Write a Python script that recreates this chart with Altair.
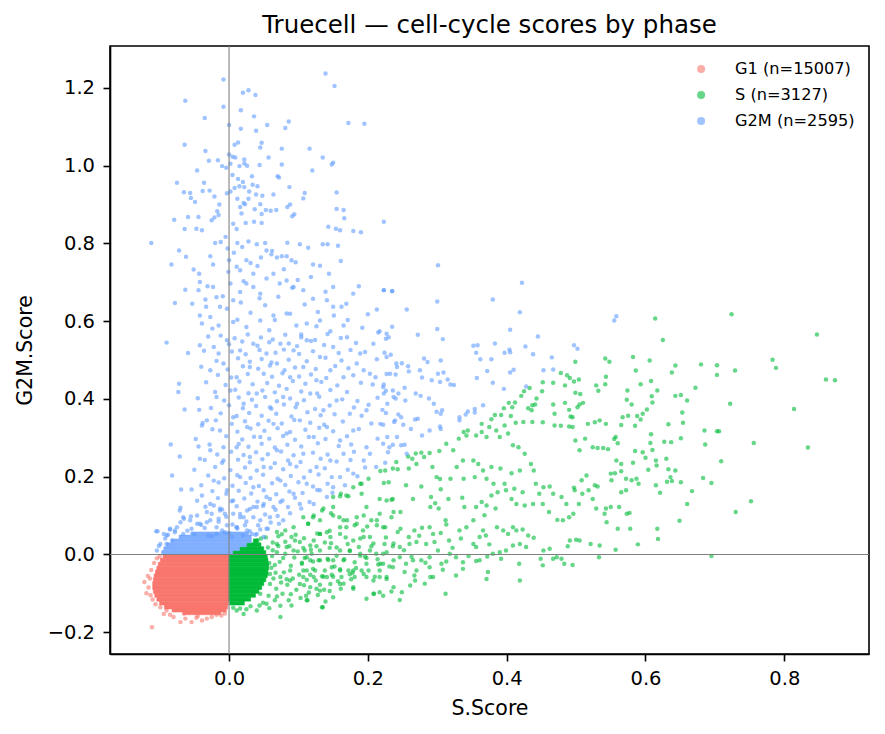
import altair as alt
import pandas as pd

# ---------------- data ----------------
phase_labels = ["G1 (n=15007)", "S (n=3127)", "G2M (n=2595)"]
phase_colors = ["#F8766D", "#00BA38", "#619CFF"]
x_ticks = [0.0, 0.2, 0.4, 0.6, 0.8]
y_ticks = [-0.2, 0.0, 0.2, 0.4, 0.6, 0.8, 1.0, 1.2]
x_domain = [-0.1715, 0.922]
y_domain = [-0.256, 1.308]
ref_zero = [0.0]

# dense cores, one row per band: (y_low, y_high, x_left, x_right)
g1_core = [
    (-0.010, 0.000, -0.095, 0.0), (-0.020, -0.010, -0.099, 0.0),
    (-0.030, -0.020, -0.102, 0.0), (-0.040, -0.030, -0.104, 0.0),
    (-0.050, -0.040, -0.106, 0.0), (-0.060, -0.050, -0.108, 0.0),
    (-0.070, -0.060, -0.109, 0.0), (-0.080, -0.070, -0.110, 0.0),
    (-0.090, -0.080, -0.110, 0.0), (-0.100, -0.090, -0.109, 0.0),
    (-0.110, -0.100, -0.107, 0.0), (-0.120, -0.110, -0.104, 0.0),
    (-0.130, -0.120, -0.100, -0.001), (-0.140, -0.130, -0.093, -0.002),
    (-0.148, -0.140, -0.082, -0.004), (-0.155, -0.148, -0.066, -0.012),
]
s_core = [
    (0.030, 0.040, 0.035, 0.042), (0.020, 0.030, 0.025, 0.046),
    (0.010, 0.020, 0.015, 0.050), (0.000, 0.010, 0.005, 0.053),
    (-0.010, 0.000, 0.0, 0.055), (-0.020, -0.010, 0.0, 0.056),
    (-0.030, -0.020, 0.0, 0.057), (-0.040, -0.030, 0.0, 0.057),
    (-0.050, -0.040, 0.0, 0.056), (-0.060, -0.050, 0.0, 0.055),
    (-0.070, -0.060, 0.0, 0.053), (-0.080, -0.070, 0.0, 0.050),
    (-0.090, -0.080, 0.0, 0.047), (-0.100, -0.090, 0.0, 0.043),
    (-0.110, -0.100, 0.0, 0.038), (-0.120, -0.110, 0.0, 0.031),
    (-0.130, -0.120, 0.001, 0.022),
]
g2m_core = [
    (0.000, 0.010, -0.097, 0.005), (0.010, 0.020, -0.094, 0.015),
    (0.020, 0.030, -0.090, 0.025), (0.030, 0.040, -0.083, 0.032),
    (0.040, 0.050, -0.072, 0.032), (0.050, 0.058, -0.055, 0.028),
]

g1_pts = [
    (-0.122, -0.071), (-0.119, -0.100), (-0.114, -0.062), (-0.110, -0.116), (-0.099, -0.136),
    (-0.094, -0.153), (-0.070, -0.174), (-0.054, -0.174), (-0.039, -0.170), (-0.025, -0.161),
    (-0.011, -0.157), (-0.080, -0.161), (-0.090, -0.144), (-0.111, -0.187), (-0.116, -0.085),
    (-0.112, -0.040), (-0.108, -0.022), (-0.104, -0.010), (-0.117, -0.055), (-0.113, -0.105),
    (-0.106, -0.128), (-0.085, -0.155), (-0.063, -0.165), (-0.047, -0.163), (-0.032, -0.165),
    (-0.018, -0.155), (-0.006, -0.152), (-0.100, -0.005), (-0.065, -0.152), (-0.045, -0.158),
]

s_pts = [
    # far spread of the S cloud
    (0.614, 0.607), (0.724, 0.618), (0.847, 0.566), (0.625, 0.552), (0.783, 0.501), (0.788, 0.480),
    (0.680, 0.489), (0.703, 0.487), (0.703, 0.462), (0.729, 0.473), (0.860, 0.450), (0.873, 0.448),
    (0.814, 0.374), (0.834, 0.275), (0.756, 0.287), (0.722, 0.388), (0.672, 0.429), (0.660, 0.396),
    (0.651, 0.410), (0.643, 0.408), (0.638, 0.468), (0.643, 0.486), (0.606, 0.499), (0.582, 0.508),
    (0.586, 0.473), (0.542, 0.504), (0.548, 0.496), (0.543, 0.457), (0.542, 0.438), (0.529, 0.435),
    (0.532, 0.421), (0.499, 0.496), (0.504, 0.450), (0.497, 0.445), (0.491, 0.454), (0.487, 0.461),
    (0.478, 0.467), (0.467, 0.442), (0.452, 0.443), (0.451, 0.420), (0.484, 0.435), (0.499, 0.416),
    (0.506, 0.413), (0.433, 0.428), (0.425, 0.420), (0.421, 0.408), (0.443, 0.401), (0.441, 0.386),
    (0.437, 0.384), (0.436, 0.371), (0.431, 0.376), (0.412, 0.391), (0.408, 0.379), (0.403, 0.390),
    (0.396, 0.376), (0.406, 0.356), (0.392, 0.359), (0.383, 0.359), (0.378, 0.348), (0.413, 0.339),
    (0.424, 0.341), (0.437, 0.341), (0.452, 0.340), (0.467, 0.386), (0.469, 0.362), (0.469, 0.332),
    (0.478, 0.331), (0.490, 0.372), (0.492, 0.355), (0.490, 0.329), (0.502, 0.379), (0.505, 0.386),
    (0.510, 0.390), (0.484, 0.390), (0.495, 0.353), (0.517, 0.336), (0.534, 0.345), (0.543, 0.336),
    (0.527, 0.340), (0.495, 0.328), (0.505, 0.268), (0.499, 0.293), (0.513, 0.298), (0.524, 0.276),
    (0.531, 0.274), (0.539, 0.274), (0.546, 0.271), (0.555, 0.297), (0.560, 0.286), (0.557, 0.302),
    (0.574, 0.422), (0.573, 0.398), (0.580, 0.386), (0.593, 0.438), (0.608, 0.446), (0.617, 0.422),
    (0.609, 0.407), (0.610, 0.391), (0.602, 0.373), (0.596, 0.362), (0.588, 0.356), (0.593, 0.347),
    (0.575, 0.357), (0.567, 0.353), (0.565, 0.333), (0.585, 0.331), (0.633, 0.335), (0.653, 0.365),
    (0.654, 0.339), (0.651, 0.299), (0.627, 0.290), (0.637, 0.289), (0.608, 0.309), (0.607, 0.287),
    (0.610, 0.269), (0.596, 0.263), (0.585, 0.266), (0.600, 0.249), (0.615, 0.242), (0.616, 0.229),
    (0.630, 0.246), (0.633, 0.219), (0.643, 0.216), (0.636, 0.199), (0.638, 0.189), (0.631, 0.187),
    (0.651, 0.186), (0.667, 0.163), (0.683, 0.197), (0.695, 0.184), (0.685, 0.319), (0.686, 0.283),
    (0.703, 0.317), (0.706, 0.317), (0.709, 0.240), (0.752, 0.137), (0.730, 0.109), (0.660, 0.130),
    (0.649, 0.087), (0.621, 0.159), (0.615, 0.178), (0.604, 0.218), (0.587, 0.195), (0.590, 0.182),
    (0.580, 0.191), (0.572, 0.195), (0.565, 0.214), (0.556, 0.209), (0.550, 0.208), (0.551, 0.191),
    (0.558, 0.242), (0.565, 0.233), (0.582, 0.236), (0.572, 0.165), (0.565, 0.160), (0.573, 0.105),
    (0.577, 0.107), (0.562, 0.122), (0.550, 0.122), (0.543, 0.118), (0.541, 0.105), (0.544, 0.083),
    (0.529, 0.118), (0.524, 0.143), (0.518, 0.165), (0.509, 0.156), (0.504, 0.130), (0.496, 0.105),
    (0.490, 0.096), (0.481, 0.088), (0.473, 0.089), (0.461, 0.109), (0.452, 0.130), (0.447, 0.156),
    (0.438, 0.130), (0.426, 0.126), (0.414, 0.130), (0.407, 0.143), (0.399, 0.165), (0.397, 0.182),
    (0.387, 0.160), (0.378, 0.152), (0.371, 0.126), (0.364, 0.135), (0.356, 0.122), (0.339, 0.122),
    (0.336, 0.146), (0.316, 0.143), (0.305, 0.168), (0.304, 0.194), (0.299, 0.199), (0.293, 0.225),
    (0.281, 0.251), (0.269, 0.260), (0.258, 0.252), (0.264, 0.246), (0.277, 0.262), (0.289, 0.261),
    (0.303, 0.266), (0.313, 0.285), (0.323, 0.268), (0.331, 0.298), (0.338, 0.315), (0.344, 0.319),
    (0.342, 0.306), (0.356, 0.306), (0.364, 0.336), (0.364, 0.315), (0.371, 0.302), (0.375, 0.328),
    (0.385, 0.319), (0.390, 0.302), (0.397, 0.332), (0.402, 0.311), (0.409, 0.281), (0.417, 0.276),
    (0.426, 0.259), (0.435, 0.233), (0.439, 0.216), (0.419, 0.216), (0.407, 0.209), (0.391, 0.221),
    (0.378, 0.225), (0.366, 0.216), (0.359, 0.233), (0.352, 0.242), (0.337, 0.242), (0.328, 0.225),
    (0.319, 0.195), (0.338, 0.195), (0.354, 0.199), (0.371, 0.195), (0.381, 0.182), (0.411, 0.169),
    (0.423, 0.160), (0.442, 0.182), (0.453, 0.173), (0.462, 0.175), (0.467, 0.156), (0.479, 0.148),
    (0.486, 0.130), (0.498, 0.165), (0.508, 0.191), (0.515, 0.203), (0.527, 0.178), (0.531, 0.175),
    (0.497, 0.172), (0.223, 0.184), (0.225, 0.216), (0.236, 0.221), (0.243, 0.219), (0.259, 0.221),
    (0.270, 0.233), (0.255, 0.178), (0.277, 0.175), (0.265, 0.143), (0.291, 0.148), (0.297, 0.132),
    (0.290, 0.122), (0.302, 0.118), (0.312, 0.088), (0.313, 0.077), (0.332, 0.062), (0.342, 0.070),
    (0.352, 0.027), (0.356, 0.019), (0.366, 0.062), (0.370, 0.049), (0.386, 0.070), (0.395, 0.062),
    (0.402, 0.053), (0.409, 0.070), (0.414, 0.062), (0.423, 0.064), (0.431, 0.049), (0.439, 0.043),
    (0.428, 0.019), (0.419, 0.027), (0.409, 0.023), (0.399, 0.010), (0.390, 0.006), (0.380, 0.002),
    (0.372, -0.005), (0.392, -0.011), (0.453, 0.010), (0.462, 0.015), (0.449, -0.011), (0.472, -0.007),
    (0.479, -0.011), (0.488, 0.021), (0.491, 0.036), (0.500, 0.038), (0.505, 0.036), (0.521, 0.027),
    (0.534, 0.023), (0.557, 0.012), (0.533, -0.007), (0.560, 0.066), (0.578, 0.066), (0.589, 0.026),
    (0.617, 0.066), (0.618, 0.040), (0.695, -0.004), (0.217, 0.143), (0.234, 0.141), (0.217, 0.105),
    (0.234, 0.096), (0.247, 0.109), (0.222, 0.070), (0.247, 0.066), (0.259, 0.045), (0.267, 0.062),
    (0.278, 0.069), (0.289, 0.070), (0.294, 0.053), (0.284, 0.027), (0.270, 0.032), (0.260, 0.027),
    (0.246, 0.019), (0.236, 0.021), (0.224, 0.027), (0.227, 0.006), (0.246, -0.007), (0.255, -0.024),
    (0.265, -0.015), (0.277, -0.015), (0.289, -0.007), (0.301, 0.010), (0.317, 0.036), (0.327, -0.007),
    (0.337, -0.020), (0.318, 0.002), (0.306, -0.024), (0.289, -0.033), (0.270, -0.041), (0.253, -0.045),
    (0.236, -0.033), (0.222, -0.024), (0.217, -0.041), (0.356, -0.017), (0.361, -0.015), (0.337, -0.037),
    (0.308, -0.039), (0.294, -0.058), (0.267, -0.054), (0.452, -0.028), (0.467, -0.011), (0.483, -0.024),
    (0.495, -0.027), (0.418, -0.024), (0.373, -0.045), (0.327, -0.054), (0.217, -0.058), (0.227, -0.063),
    # lower band and x 0.10-0.22
    (0.113, -0.118), (0.135, -0.136), (0.111, -0.106), (0.126, -0.088), (0.145, -0.094), (0.165, -0.075),
    (0.179, -0.088), (0.198, -0.114), (0.209, -0.101), (0.217, -0.097), (0.234, -0.095), (0.246, -0.117),
    (0.249, -0.097), (0.261, -0.080), (0.268, -0.067), (0.282, -0.075), (0.290, -0.058), (0.312, -0.101),
    (0.371, -0.063), (0.419, -0.067), (0.160, -0.038), (0.148, -0.033), (0.138, -0.041), (0.121, -0.037),
    (0.112, -0.041), (0.107, -0.058), (0.125, -0.067), (0.136, -0.057), (0.150, -0.057), (0.162, -0.058),
    (0.174, -0.051), (0.181, -0.058), (0.198, -0.058), (0.210, -0.057), (0.172, -0.041), (0.191, -0.041),
    (0.201, -0.041), (0.215, -0.026), (0.203, 0.045), (0.193, 0.062), (0.181, 0.075), (0.165, 0.088),
    (0.150, 0.100), (0.141, 0.057), (0.131, 0.053), (0.117, 0.023), (0.109, 0.010), (0.105, -0.024),
    (0.160, 0.070), (0.169, 0.070), (0.184, 0.096), (0.198, 0.122), (0.205, 0.088), (0.213, 0.075),
    (0.191, 0.156), (0.189, 0.182), (0.169, 0.152), (0.160, 0.150), (0.150, 0.122), (0.136, 0.118),
    (0.131, 0.088), (0.121, 0.096), (0.114, 0.079), (0.107, 0.017), (0.119, 0.002), (0.131, 0.010),
    (0.145, 0.017), (0.155, -0.003), (0.174, 0.009), (0.189, -0.003), (0.198, -0.009), (0.212, 0.002),
    (0.129, -0.015), (0.143, -0.014), (0.165, -0.015), (0.181, -0.020), (0.117, -0.015), (0.109, -0.009),
    # x 0.04-0.24 from the left panel
    (0.241, 0.238), (0.230, 0.186), (0.227, 0.139), (0.236, 0.143), (0.218, 0.215), (0.201, 0.195),
    (0.191, 0.182), (0.179, 0.173), (0.172, 0.150), (0.161, 0.156), (0.150, 0.148), (0.134, 0.113),
    (0.147, 0.106), (0.159, 0.096), (0.170, 0.088), (0.184, 0.079), (0.194, 0.100), (0.213, 0.088),
    (0.225, 0.070), (0.237, 0.109), (0.122, 0.100), (0.107, 0.096), (0.114, 0.079), (0.093, 0.070),
    (0.081, 0.062), (0.069, 0.058), (0.090, 0.045), (0.102, 0.032), (0.122, 0.036), (0.131, 0.053),
    (0.146, 0.045), (0.160, 0.053), (0.179, 0.036), (0.194, 0.045), (0.208, 0.028), (0.237, 0.028),
    (0.222, 0.002), (0.203, 0.010), (0.189, 0.002), (0.174, 0.010), (0.160, 0.010), (0.150, -0.015),
    (0.131, -0.015), (0.112, -0.007), (0.093, 0.010), (0.083, 0.019), (0.069, 0.027), (0.107, -0.041),
    (0.122, -0.058), (0.141, -0.058), (0.160, -0.041), (0.179, -0.041), (0.198, -0.024), (0.218, -0.024),
    (0.237, -0.015), (0.227, -0.058), (0.208, -0.067), (0.194, -0.050), (0.179, -0.084), (0.160, -0.076),
    (0.146, -0.076), (0.131, -0.093), (0.117, -0.084), (0.102, -0.076), (0.088, -0.067), (0.074, -0.058),
    (0.059, -0.050), (0.112, -0.118), (0.090, -0.131), (0.074, -0.161), (0.134, -0.136), (0.222, -0.106),
    (0.237, -0.084), (0.208, -0.101), (0.150, -0.110), (0.045, -0.101), (0.054, -0.127), (0.040, -0.144),
    (0.021, -0.153), (0.011, -0.144),
    # fuzzy edge of the S core
    (0.052, -0.012), (0.056, 0.018), (0.061, -0.034), (0.064, -0.062), (0.068, -0.088), (0.057, -0.106),
    (0.063, 0.031), (0.069, 0.006), (0.073, -0.019), (0.079, -0.046), (0.084, -0.078), (0.077, -0.101),
    (0.089, -0.029), (0.094, -0.008), (0.087, 0.021), (0.053, 0.044), (0.046, 0.041), (0.041, 0.036),
    (0.054, -0.051), (0.059, -0.076), (0.049, -0.124), (0.031, -0.133), (0.016, -0.139), (0.066, -0.118),
    (0.101, -0.052), (0.097, -0.091), (0.081, 0.002), (0.071, 0.047), (0.076, 0.052), (0.105, -0.021),
    (0.112, -0.065), (0.118, 0.012), (0.124, -0.041), (0.131, -0.078), (0.138, 0.031), (0.142, -0.011),
    (0.148, -0.052), (0.155, 0.018), (0.161, -0.088), (0.108, 0.042), (0.092, -0.062), (0.086, -0.118),
    (0.074, -0.132), (0.058, -0.138), (0.044, -0.131), (0.025, -0.141), (0.006, -0.137), (0.099, 0.008),
    (0.115, -0.098), (0.127, 0.054), (0.121, -0.018), (0.134, -0.056), (0.145, 0.061), (0.152, -0.031),
    (0.166, -0.012), (0.171, 0.027), (0.176, -0.064), (0.183, -0.035), (0.189, 0.041), (0.196, -0.006),
    (0.062, -0.004), (0.067, -0.047), (0.071, 0.022), (0.083, -0.064), (0.095, 0.036), (0.103, -0.112),
    (0.128, -0.104), (0.139, -0.121),
    (0.205, 0.021), (0.214, -0.012), (0.226, 0.044), (0.231, -0.031), (0.243, 0.058), (0.252, 0.011),
    (0.263, -0.006), (0.274, 0.048), (0.283, -0.021), (0.296, 0.032), (0.305, 0.055), (0.313, -0.018),
    (0.322, 0.017), (0.334, 0.041), (0.345, -0.004), (0.352, 0.088), (0.361, 0.045), (0.368, 0.101),
    (0.375, 0.026), (0.384, 0.118), (0.199, 0.072), (0.187, 0.019), (0.178, -0.047), (0.168, 0.044),
    (0.157, -0.069), (0.147, 0.029), (0.137, -0.091), (0.126, 0.021), (0.117, -0.052), (0.108, -0.079),
    (0.096, 0.051), (0.089, -0.102), (0.081, 0.033), (0.075, -0.072), (0.069, -0.108), (0.063, 0.011),
    (0.058, -0.022), (0.066, -0.027), (0.078, -0.009), (0.088, -0.041),
]

g2m_pts = [
    # upper part of the G2M cloud
    (0.139, 1.237), (0.152, 1.205), (-0.008, 1.222), (0.020, 1.188), (0.028, 1.194), (0.038, 1.182),
    (-0.063, 1.167), (-0.008, 1.152), (0.017, 1.143), (0.036, 1.127), (-0.035, 1.123), (0.172, 1.110),
    (0.195, 1.108), (0.086, 1.114), (0.081, 1.097), (0.055, 1.105), (0.000, 1.105), (0.039, 1.090),
    (0.017, 1.095), (0.047, 1.059), (0.045, 1.047), (0.008, 1.054), (0.013, 1.060), (-0.064, 1.054),
    (-0.034, 1.038), (0.076, 1.044), (0.116, 1.044), (0.000, 1.029), (0.005, 1.023), (0.009, 1.021),
    (-0.016, 1.014), (-0.029, 1.013), (0.022, 1.016), (0.057, 1.021), (0.135, 1.021), (-0.010, 0.999),
    (-0.004, 0.995), (0.002, 1.005), (0.015, 0.999), (0.022, 1.006), (0.026, 1.000), (0.044, 1.002),
    (0.076, 1.003), (0.148, 1.003), (0.150, 1.008), (0.120, 0.988), (-0.046, 0.988), (0.005, 0.976),
    (0.013, 0.966), (0.033, 0.973), (0.020, 0.958), (0.070, 0.973), (0.072, 0.970), (0.087, 0.945),
    (-0.075, 0.956), (-0.036, 0.956), (-0.065, 0.932), (-0.056, 0.930), (-0.055, 0.917), (-0.049, 0.907),
    (-0.038, 0.935), (-0.028, 0.936), (-0.021, 0.921), (-0.003, 0.929), (0.002, 0.934), (0.008, 0.943),
    (0.015, 0.947), (0.022, 0.945), (0.029, 0.934), (0.034, 0.951), (0.041, 0.947), (0.012, 0.915),
    (0.021, 0.904), (0.028, 0.915), (0.039, 0.926), (0.048, 0.923), (0.064, 0.926), (0.107, 0.916),
    (0.109, 0.930), (0.155, 0.931), (0.155, 0.889), (0.165, 0.886), (0.166, 0.865), (0.088, 0.900),
    (0.084, 0.894), (0.094, 0.875), (0.091, 0.870), (-0.014, 0.900), (-0.017, 0.883), (-0.015, 0.873),
    (-0.025, 0.860), (-0.021, 0.867), (-0.079, 0.861), (-0.059, 0.868), (-0.044, 0.868), (-0.064, 0.837),
    (-0.047, 0.838), (-0.039, 0.834), (0.006, 0.851), (0.011, 0.837), (0.018, 0.877), (0.024, 0.853),
    (0.036, 0.856), (0.047, 0.853), (0.053, 0.886), (0.060, 0.884), (0.068, 0.886), (0.016, 0.894),
    (0.023, 0.901), (0.037, 0.888), (0.045, 0.901), (0.047, 0.876), (0.143, 0.843), (0.154, 0.838),
    (0.160, 0.834), (0.179, 0.832), (0.190, 0.829), (0.223, 0.856), (-0.112, 0.801), (-0.072, 0.782),
    (-0.062, 0.766), (-0.083, 0.746),
    (-0.051, 0.733), (-0.043, 0.722), (-0.042, 0.701), (-0.044, 0.680), (-0.031, 0.690), (-0.034, 0.656),
    (-0.033, 0.637), (-0.027, 0.767), (-0.023, 0.746), (-0.020, 0.801), (-0.012, 0.804), (-0.005, 0.817),
    (-0.002, 0.787), (0.000, 0.757), (-0.001, 0.727), (0.007, 0.776), (0.012, 0.801), (0.019, 0.791),
    (0.011, 0.740), (0.016, 0.731), (0.025, 0.757), (0.031, 0.750), (0.035, 0.722), (0.040, 0.798),
    (0.046, 0.764), (0.052, 0.801), (0.054, 0.782), (0.062, 0.781), (0.069, 0.764), (0.076, 0.767),
    (0.083, 0.767), (0.090, 0.757), (0.096, 0.752), (0.102, 0.798), (0.114, 0.789), (0.121, 0.746),
    (0.131, 0.743), (0.135, 0.798), (0.142, 0.798), (0.157, 0.794), (0.161, 0.755), (0.144, 0.722),
    (0.150, 0.688), (0.141, 0.654), (0.121, 0.658), (0.107, 0.680), (0.093, 0.688), (0.083, 0.705),
    (0.073, 0.697), (0.064, 0.722), (0.054, 0.710), (0.045, 0.671), (0.035, 0.688), (0.025, 0.697),
    (0.016, 0.675), (0.006, 0.654), (-0.003, 0.632), (-0.013, 0.637), (-0.018, 0.662), (-0.023, 0.688),
    (-0.027, 0.611), (-0.042, 0.615), (-0.039, 0.594), (-0.015, 0.589), (0.006, 0.598), (0.025, 0.585),
    (0.045, 0.602), (0.064, 0.615), (0.083, 0.620), (0.097, 0.589), (0.112, 0.594), (0.131, 0.602),
    (0.150, 0.637), (0.169, 0.645), (0.187, 0.690), (0.200, 0.618), (0.213, 0.630), (0.223, 0.680),
    (0.235, 0.678), (0.179, 0.671), (0.165, 0.589), (0.162, 0.637), (0.227, 0.568), (0.215, 0.571),
    (-0.053, 0.645), (-0.078, 0.647), (-0.063, 0.681),
    (0.031, 0.622), (0.052, 0.641), (0.071, 0.663), (0.088, 0.619), (0.109, 0.643), (0.128, 0.624),
    (0.021, 0.703), (0.041, 0.742), (0.079, 0.734), (0.099, 0.706), (0.118, 0.714), (0.061, 0.772),
    (0.002, 0.697), (-0.009, 0.664), (0.028, 0.805), (0.084, 0.802), (0.171, 0.603), (0.192, 0.583),
    (0.146, 0.574), (0.058, 0.577), (0.012, 0.604), (-0.024, 0.581), (0.104, 0.566), (0.126, 0.587),
    (0.044, 0.659), (0.017, 0.648), (0.139, 0.676), (0.091, 0.686), (0.066, 0.603), (0.151, 0.615),
    # middle part
    (-0.090, 0.545), (-0.059, 0.518), (-0.042, 0.538), (-0.030, 0.561), (-0.072, 0.439), (-0.073, 0.418),
    (-0.064, 0.373), (-0.043, 0.372), (-0.039, 0.332), (-0.084, 0.283), (-0.071, 0.252), (-0.044, 0.278),
    (-0.042, 0.246), (-0.082, 0.203), (-0.069, 0.167), (-0.054, 0.167), (-0.039, 0.152), (-0.071, 0.113),
    (-0.065, 0.092), (-0.103, 0.060), (-0.090, 0.049), (-0.078, 0.062),
    (-0.022, 0.534), (-0.003, 0.551), (0.016, 0.525), (0.035, 0.542), (0.054, 0.517), (0.074, 0.542),
    (0.093, 0.525), (0.112, 0.551), (0.131, 0.508), (0.150, 0.534), (0.170, 0.559), (0.189, 0.517),
    (0.208, 0.542), (0.227, 0.508), (0.242, 0.482),
    (-0.027, 0.474), (-0.008, 0.491), (0.011, 0.456), (0.030, 0.482), (0.050, 0.465), (0.069, 0.491),
    (0.088, 0.456), (0.107, 0.482), (0.126, 0.448), (0.146, 0.474), (0.165, 0.456), (0.184, 0.491),
    (0.203, 0.465), (0.222, 0.431), (0.237, 0.405),
    (-0.018, 0.405), (0.002, 0.422), (0.021, 0.388), (0.040, 0.414), (0.059, 0.379), (0.078, 0.405),
    (0.098, 0.388), (0.117, 0.414), (0.136, 0.371), (0.155, 0.396), (0.174, 0.362), (0.198, 0.371),
    (0.218, 0.336), (0.239, 0.345),
    (-0.032, 0.345), (-0.013, 0.319), (0.006, 0.353), (0.026, 0.328), (0.045, 0.302), (0.064, 0.336),
    (0.083, 0.311), (0.102, 0.345), (0.122, 0.302), (0.141, 0.328), (0.160, 0.293), (0.179, 0.319),
    (0.198, 0.276), (0.222, 0.285), (0.242, 0.302),
    (-0.027, 0.268), (-0.008, 0.242), (0.011, 0.276), (0.030, 0.251), (0.050, 0.225), (0.069, 0.268),
    (0.088, 0.233), (0.107, 0.259), (0.126, 0.225), (0.146, 0.242), (0.165, 0.259), (0.194, 0.242),
    (0.212, 0.225),
    (-0.022, 0.190), (-0.003, 0.165), (0.016, 0.199), (0.035, 0.173), (0.054, 0.148), (0.074, 0.190),
    (0.093, 0.156), (0.112, 0.182), (0.131, 0.165), (0.150, 0.173), (0.160, 0.199), (0.179, 0.208),
    (-0.027, 0.130), (-0.013, 0.113), (0.006, 0.139), (0.021, 0.096), (0.040, 0.122), (0.059, 0.096),
    (0.078, 0.088), (0.102, 0.130), (0.122, 0.130), (0.141, 0.148),
    (-0.099, 0.027), (-0.046, 0.079), (-0.032, 0.083), (-0.018, 0.070), (-0.003, 0.075), (0.011, 0.070),
    (0.026, 0.062), (0.040, 0.053), (0.050, 0.045),
    (-0.012, 0.563), (0.008, 0.556), (0.027, 0.566), (0.046, 0.558), (0.063, 0.553), (0.081, 0.565),
    (0.104, 0.559), (0.124, 0.552), (0.142, 0.567), (0.161, 0.557),
    (0.000, 0.541), (0.019, 0.548), (0.041, 0.537), (0.058, 0.546), (0.086, 0.543), (0.098, 0.536),
    (0.118, 0.549), (0.137, 0.539), (0.183, 0.544),
    (-0.036, 0.524), (-0.015, 0.517), (0.004, 0.522), (0.024, 0.515), (0.044, 0.526), (0.067, 0.519),
    (0.079, 0.527), (0.101, 0.516), (0.121, 0.523), (0.158, 0.518), (0.175, 0.526), (0.196, 0.521),
    (-0.018, 0.498), (0.013, 0.505), (0.030, 0.496), (0.047, 0.503), (0.061, 0.494), (0.086, 0.501),
    (0.112, 0.497), (0.139, 0.506), (0.162, 0.499), (0.213, 0.502),
    (-0.040, 0.483), (-0.002, 0.476), (0.020, 0.484), (0.042, 0.478), (0.059, 0.486), (0.080, 0.474),
    (0.095, 0.481), (0.125, 0.477), (0.153, 0.485), (0.172, 0.479), (0.194, 0.474),
    (-0.016, 0.462), (0.003, 0.455), (0.027, 0.464), (0.062, 0.457), (0.077, 0.466), (0.101, 0.458),
    (0.118, 0.463), (0.140, 0.454), (0.179, 0.461), (0.211, 0.456), (0.232, 0.465),
    (-0.033, 0.443), (-0.005, 0.436), (0.015, 0.445), (0.034, 0.438), (0.055, 0.441), (0.072, 0.434),
    (0.092, 0.446), (0.110, 0.439), (0.133, 0.444), (0.156, 0.435), (0.190, 0.442), (0.207, 0.437),
    (-0.020, 0.418), (0.009, 0.424), (0.028, 0.415), (0.048, 0.422), (0.066, 0.417), (0.083, 0.426),
    (0.104, 0.419), (0.127, 0.414), (0.146, 0.423), (0.170, 0.418), (0.226, 0.421),
    (-0.045, 0.402), (-0.007, 0.396), (0.014, 0.404), (0.033, 0.398), (0.052, 0.405), (0.069, 0.394),
    (0.088, 0.401), (0.108, 0.397), (0.130, 0.406), (0.163, 0.399), (0.185, 0.395), (0.214, 0.403),
    (-0.026, 0.377), (0.000, 0.384), (0.020, 0.376), (0.039, 0.382), (0.061, 0.375), (0.079, 0.386),
    (0.096, 0.379), (0.124, 0.374), (0.145, 0.383), (0.180, 0.378), (0.201, 0.385),
    (-0.012, 0.363), (0.011, 0.356), (0.029, 0.364), (0.047, 0.357), (0.068, 0.362), (0.090, 0.355),
    (0.113, 0.366), (0.132, 0.358), (0.152, 0.361), (0.191, 0.357), (0.226, 0.364),
    (-0.038, 0.338), (-0.019, 0.345), (0.004, 0.336), (0.023, 0.343), (0.042, 0.335), (0.057, 0.344),
    (0.076, 0.337), (0.094, 0.346), (0.117, 0.339), (0.137, 0.334), (0.164, 0.342), (0.205, 0.337),
    (-0.024, 0.322), (0.012, 0.316), (0.031, 0.324), (0.051, 0.318), (0.070, 0.325), (0.088, 0.315),
    (0.110, 0.321), (0.130, 0.326), (0.150, 0.317), (0.187, 0.323),
    (-0.048, 0.297), (-0.004, 0.304), (0.019, 0.296), (0.036, 0.303), (0.058, 0.298), (0.078, 0.305),
    (0.095, 0.295), (0.115, 0.302), (0.139, 0.297), (0.170, 0.304), (0.214, 0.298),
    (-0.028, 0.283), (-0.008, 0.276), (0.014, 0.284), (0.028, 0.277), (0.047, 0.285), (0.066, 0.275),
    (0.084, 0.282), (0.104, 0.278), (0.128, 0.286), (0.158, 0.279), (0.176, 0.283), (0.231, 0.276),
    (-0.017, 0.257), (0.003, 0.264), (0.021, 0.256), (0.039, 0.263), (0.056, 0.258), (0.075, 0.265),
    (0.093, 0.255), (0.121, 0.262), (0.142, 0.257), (0.180, 0.264), (0.203, 0.259),
    (-0.035, 0.243), (-0.010, 0.236), (0.013, 0.244), (0.030, 0.237), (0.048, 0.245), (0.066, 0.235),
    (0.085, 0.242), (0.103, 0.238), (0.132, 0.246), (0.155, 0.239), (0.175, 0.243),
    (-0.050, 0.218), (-0.020, 0.225), (0.002, 0.217), (0.023, 0.224), (0.040, 0.216), (0.060, 0.223),
    (0.078, 0.219), (0.097, 0.226), (0.117, 0.215), (0.138, 0.222), (0.171, 0.218), (0.196, 0.224),
    (-0.030, 0.203), (-0.007, 0.196), (0.012, 0.204), (0.031, 0.197), (0.049, 0.205), (0.070, 0.195),
    (0.089, 0.202), (0.108, 0.198), (0.129, 0.206), (0.148, 0.199), (0.185, 0.201),
    (-0.040, 0.178), (-0.015, 0.185), (0.005, 0.177), (0.024, 0.184), (0.043, 0.176), (0.062, 0.183),
    (0.081, 0.179), (0.100, 0.186), (0.121, 0.175), (0.142, 0.182), (0.167, 0.178),
    (-0.024, 0.163), (-0.004, 0.156), (0.014, 0.164), (0.032, 0.157), (0.050, 0.165), (0.068, 0.155),
    (0.087, 0.162), (0.106, 0.158), (0.127, 0.166), (0.149, 0.159),
    (-0.046, 0.138), (-0.016, 0.145), (0.004, 0.137), (0.022, 0.144), (0.041, 0.136), (0.059, 0.143),
    (0.077, 0.139), (0.095, 0.146), (0.116, 0.135),
    (-0.034, 0.123), (-0.010, 0.116), (0.011, 0.124), (0.030, 0.117), (0.049, 0.125), (0.067, 0.115),
    (0.085, 0.122), (0.104, 0.118),
    (-0.055, 0.098), (-0.025, 0.105), (-0.004, 0.097), (0.016, 0.104), (0.035, 0.096), (0.052, 0.103),
    (0.070, 0.099), (0.088, 0.106),
    (-0.070, 0.083), (-0.040, 0.076), (-0.015, 0.084), (0.005, 0.077), (0.025, 0.085), (0.042, 0.075),
    (0.060, 0.082), (0.072, 0.079),
    (-0.085, 0.066), (-0.060, 0.061), (-0.035, 0.068), (-0.010, 0.062), (0.012, 0.067), (0.030, 0.060),
    (0.045, 0.064), (0.056, 0.066),
    (-0.050, 0.052), (-0.025, 0.047), (0.000, 0.055), (0.020, 0.049), (0.038, 0.051),
    (-0.092, 0.041), (-0.101, 0.022), (-0.104, 0.010), (-0.088, 0.051), (-0.078, 0.057),
    # right flank of the G2M cloud
    (0.301, 0.744), (0.223, 0.680), (0.235, 0.677), (0.300, 0.651), (0.422, 0.699), (0.380, 0.656),
    (0.419, 0.623), (0.256, 0.630), (0.405, 0.578), (0.445, 0.561), (0.427, 0.535), (0.497, 0.538),
    (0.502, 0.529), (0.555, 0.602), (0.558, 0.613), (0.217, 0.574), (0.226, 0.555), (0.230, 0.559),
    (0.235, 0.586), (0.272, 0.565), (0.300, 0.580), (0.308, 0.554), (0.352, 0.537), (0.358, 0.538),
    (0.356, 0.519), (0.383, 0.543), (0.362, 0.502), (0.378, 0.502), (0.404, 0.527), (0.405, 0.520),
    (0.397, 0.519), (0.438, 0.515), (0.465, 0.507), (0.305, 0.499), (0.281, 0.504), (0.286, 0.495),
    (0.224, 0.519), (0.233, 0.514), (0.249, 0.492), (0.241, 0.491), (0.227, 0.464), (0.240, 0.463),
    (0.258, 0.484), (0.259, 0.471), (0.278, 0.455), (0.275, 0.474), (0.301, 0.465), (0.309, 0.468),
    (0.292, 0.448), (0.304, 0.444), (0.315, 0.450), (0.319, 0.437), (0.324, 0.436), (0.357, 0.454),
    (0.372, 0.472), (0.380, 0.442), (0.405, 0.468), (0.410, 0.475), (0.453, 0.474), (0.467, 0.476),
    (0.428, 0.432), (0.396, 0.426), (0.366, 0.384), (0.354, 0.374), (0.354, 0.365), (0.344, 0.368),
    (0.341, 0.360), (0.332, 0.345), (0.332, 0.353), (0.295, 0.388), (0.299, 0.367), (0.305, 0.362),
    (0.307, 0.371), (0.288, 0.401), (0.269, 0.414), (0.276, 0.408), (0.253, 0.429), (0.244, 0.414),
    (0.236, 0.422), (0.223, 0.437), (0.223, 0.414), (0.240, 0.401), (0.254, 0.396), (0.228, 0.388),
    (0.244, 0.360), (0.248, 0.353), (0.221, 0.372), (0.222, 0.334), (0.238, 0.341), (0.251, 0.334),
    (0.262, 0.323), (0.268, 0.347), (0.272, 0.349), (0.278, 0.306), (0.289, 0.319), (0.304, 0.329),
    (0.305, 0.323), (0.228, 0.302), (0.236, 0.282), (0.248, 0.281), (0.253, 0.282), (0.256, 0.259),
    (0.229, 0.263), (0.225, 0.236),
    # fringe of the G2M core
    (-0.070, 0.120), (-0.066, 0.096), (-0.056, 0.088), (-0.046, 0.100), (-0.032, 0.109), (-0.022, 0.126),
    (-0.013, 0.118), (-0.105, 0.060), (-0.094, 0.053), (-0.085, 0.064), (-0.075, 0.070), (-0.090, 0.027),
    (-0.082, 0.036), (-0.066, 0.053), (-0.054, 0.066), (-0.042, 0.079), (-0.027, 0.088), (-0.015, 0.092),
    (-0.006, 0.105), (0.006, 0.105), (0.016, 0.096), (0.026, 0.113), (0.035, 0.122), (0.050, 0.130),
    (0.064, 0.122), (0.074, 0.135), (0.011, 0.070), (0.023, 0.075), (0.033, 0.053), (0.045, 0.088),
    (0.054, 0.066), (0.004, 0.045), (-0.006, 0.057), (-0.018, 0.053), (-0.030, 0.049),
]

# ---------------- tables built from the arrays ----------------
def pts_frame(pts, label):
    return pd.DataFrame({"x": [p[0] for p in pts], "y": [p[1] for p in pts], "phase": label})

def core_frame(rows):
    return pd.DataFrame({
        "y0": [r[0] for r in rows], "y1": [r[1] for r in rows],
        "x0": [r[2] for r in rows], "x1": [r[3] for r in rows],
    })

points = pd.concat([
    pts_frame(g1_pts, phase_labels[0]),
    pts_frame(s_pts, phase_labels[1]),
    pts_frame(g2m_pts, phase_labels[2]),
], ignore_index=True)

xs = alt.Scale(domain=x_domain, nice=False, zero=False)
ys = alt.Scale(domain=y_domain, nice=False, zero=False)
x_axis = alt.Axis(values=x_ticks, format=".1f", title="S.Score", grid=False, labelFlush=False)
y_axis = alt.Axis(values=y_ticks, format=".1f", title="G2M.Score", grid=False, labelFlush=False)


def core_layer(rows, color):
    return alt.Chart(core_frame(rows)).mark_rect(
        color=color, stroke=color, strokeWidth=0.6, clip=True
    ).encode(
        x=alt.X("x0:Q", scale=xs, axis=x_axis),
        x2="x1:Q",
        y=alt.Y("y0:Q", scale=ys, axis=y_axis),
        y2="y1:Q",
    )


cores = [
    core_layer(g1_core, "#F8766D"),
    core_layer(s_core, "#00BA38"),
    core_layer(g2m_core, "#80AFFF"),
]

scatter = alt.Chart(points).mark_circle(size=20, opacity=0.6, clip=True).encode(
    x=alt.X("x:Q", scale=xs, axis=x_axis),
    y=alt.Y("y:Q", scale=ys, axis=y_axis),
    color=alt.Color(
        "phase:N",
        scale=alt.Scale(domain=phase_labels, range=phase_colors),
        legend=alt.Legend(
            title=None, orient="none", legendX=583, legendY=15,
            symbolType="circle", symbolSize=64, symbolOpacity=0.6, symbolStrokeWidth=0,
            labelFont="DejaVu Sans", labelFontSize=16.2, labelColor="black",
            rowPadding=9, labelOffset=25.8, padding=0,
        ),
    ),
)

zero_df = pd.DataFrame({"v": ref_zero})
vline = alt.Chart(zero_df).mark_rule(color="#808080", strokeWidth=1.1).encode(
    x=alt.X("v:Q", scale=xs, axis=x_axis)
)
hline = alt.Chart(zero_df).mark_rule(color="#808080", strokeWidth=1.1).encode(
    y=alt.Y("v:Q", scale=ys, axis=y_axis)
)

chart = alt.layer(*cores, scatter, vline, hline).properties(
    width=759,
    height=608,
    padding={"left": 102, "top": 38, "right": 8, "bottom": 64},
    autosize=alt.AutoSizeParams(type="none"),
    title=alt.TitleParams(
        text="Truecell — cell-cycle scores by phase",
        font="DejaVu Sans", fontSize=24.5, fontWeight="normal", color="black",
        anchor="middle", offset=7,
    ),
).configure_view(
    stroke="black", strokeWidth=1.6
).configure_axis(
    labelFont="DejaVu Sans", labelFontSize=19.5, labelColor="black",
    titleFont="DejaVu Sans", titleFontSize=20.5, titleFontWeight="normal", titleColor="black",
    tickColor="black", tickWidth=1.6, tickSize=7, domainColor="black", domainWidth=1.6,
    grid=False,
).configure_axisX(
    labelPadding=8.5, titlePadding=10
).configure_axisY(
    labelPadding=8.5, titlePadding=12
)

chart.save("out.html", embed_options={"renderer": "svg", "actions": False})
